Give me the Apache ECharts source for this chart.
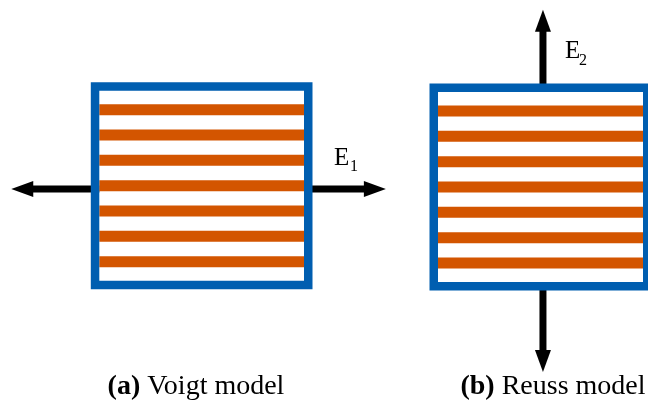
<!DOCTYPE html>
<html>
<head>
<meta charset="utf-8">
<script src="https://cdn.jsdelivr.net/npm/echarts@6/dist/echarts.min.js"></script>
<style>
  html, body { margin: 0; padding: 0; background: #ffffff; }
  #chart { width: 648px; height: 400px; }
</style>
</head>
<body>
<div id="chart"></div>
<script>
// Panel captions: bold tag + model name
const captionTags = ['(a)', '(b)'];
const captionNames = ['Voigt model', 'Reuss model'];

// Fibre layers of the laminate, indexed from the top
const fibreLayers = [0, 1, 2, 3, 4, 5, 6];

// Laminate extent: width as a fraction, height in layer units
const laminateX = [0, 1];
const laminateY = [-0.75, 6.75];

// Load arrows per panel: [startX, startY, tipX, tipY] in panel units
const voigtArrows = [[0, 3.13, -0.43, 3.13], [1, 3.13, 1.40, 3.13]];
const reussArrows = [[0.512, -0.75, 0.512, -4.0], [0.512, 6.75, 0.512, 10.3]];

// Modulus labels: symbol and subscript
const voigtLabel = ['E', '1'];
const reussLabel = ['E', '2'];

const BLUE = '#005EB0';
const ORANGE = '#D35500';
const INK = '#000000';
const SERIF = '"Liberation Serif", "DejaVu Serif", serif';
const STRIPE_THICKNESS = 0.434;   // layer units
const FRAME_WIDTH = 8.5;
const SHAFT_WIDTH = 7;
const HEAD_LENGTH = 22;
const HEAD_HALF = 8;
const CAPTION_SIZE = 28;

const panels = [
  { grid: { left: 99.3, top: 90.7, width: 204.7, height: 190 },
    arrows: voigtArrows, label: voigtLabel, labelArrow: 1,
    labelOffset: { e: [-52, -30.5], sub: [-36, -22] },
    caption: { x: 196, y: 387 } },
  { grid: { left: 438, top: 92, width: 205, height: 190 },
    arrows: reussArrows, label: reussLabel, labelArrow: 0,
    labelOffset: { e: [22, 42], sub: [36, 51.5] },
    caption: { x: 553, y: 387 } }
];

function stripeItem(params, api) {
  const layer = api.value(1);
  const p0 = api.coord([api.value(0), layer]);
  const p1 = api.coord([api.value(2), layer]);
  const h = Math.abs(api.size([0, STRIPE_THICKNESS])[1]);
  return {
    type: 'rect',
    shape: { x: p0[0], y: p0[1] - h / 2, width: p1[0] - p0[0], height: h },
    style: { fill: ORANGE }
  };
}

function frameItem(params, api) {
  const a = api.coord([api.value(0), api.value(1)]);
  const b = api.coord([api.value(2), api.value(3)]);
  const x0 = Math.min(a[0], b[0]) - FRAME_WIDTH / 2;
  const y0 = Math.min(a[1], b[1]) - FRAME_WIDTH / 2;
  return {
    type: 'rect',
    shape: {
      x: x0, y: y0,
      width: Math.abs(b[0] - a[0]) + FRAME_WIDTH,
      height: Math.abs(b[1] - a[1]) + FRAME_WIDTH
    },
    style: { fill: 'none', stroke: BLUE, lineWidth: FRAME_WIDTH }
  };
}

function makeArrowItem(panel) {
  return function (params, api) {
    const s = api.coord([api.value(0), api.value(1)]);
    const t = api.coord([api.value(2), api.value(3)]);
    const dx = t[0] - s[0], dy = t[1] - s[1];
    const len = Math.sqrt(dx * dx + dy * dy);
    const ux = dx / len, uy = dy / len;
    const bx = t[0] - ux * HEAD_LENGTH, by = t[1] - uy * HEAD_LENGTH;
    const px = -uy * HEAD_HALF, py = ux * HEAD_HALF;
    const children = [
      { type: 'line',
        shape: { x1: s[0], y1: s[1], x2: bx + ux * 2, y2: by + uy * 2 },
        style: { stroke: INK, lineWidth: SHAFT_WIDTH } },
      { type: 'polygon',
        shape: { points: [[t[0], t[1]], [bx + px, by + py], [bx - px, by - py]] },
        style: { fill: INK } }
    ];
    if (params.dataIndex === panel.labelArrow) {
      children.push({
        type: 'text',
        x: t[0] + panel.labelOffset.e[0], y: t[1] + panel.labelOffset.e[1],
        style: { text: panel.label[0], font: '25px ' + SERIF, fill: INK,
                 textAlign: 'left', textVerticalAlign: 'middle' }
      });
      children.push({
        type: 'text',
        x: t[0] + panel.labelOffset.sub[0], y: t[1] + panel.labelOffset.sub[1],
        style: { text: panel.label[1], font: '16px ' + SERIF, fill: INK,
                 textAlign: 'left', textVerticalAlign: 'middle' }
      });
    }
    return { type: 'group', children: children };
  };
}

const grids = [], xAxes = [], yAxes = [], series = [], captions = [];
panels.forEach(function (panel, i) {
  grids.push(panel.grid);
  xAxes.push({ gridIndex: i, type: 'value', min: laminateX[0], max: laminateX[1], show: false });
  yAxes.push({ gridIndex: i, type: 'value', min: laminateY[0], max: laminateY[1], inverse: true, show: false });
  series.push({
    type: 'custom', xAxisIndex: i, yAxisIndex: i, z: 1, silent: true,
    renderItem: makeArrowItem(panel),
    data: panel.arrows
  });
  series.push({
    type: 'custom', xAxisIndex: i, yAxisIndex: i, z: 2, silent: true,
    renderItem: stripeItem,
    data: fibreLayers.map(function (l) { return [laminateX[0], l, laminateX[1]]; })
  });
  series.push({
    type: 'custom', xAxisIndex: i, yAxisIndex: i, z: 3, silent: true,
    renderItem: frameItem,
    data: [[laminateX[0], laminateY[0], laminateX[1], laminateY[1]]]
  });
  captions.push({
    type: 'text',
    x: panel.caption.x, y: panel.caption.y,
    style: {
      text: '{b|' + captionTags[i] + '} ' + captionNames[i],
      font: CAPTION_SIZE + 'px ' + SERIF,
      fill: INK,
      textAlign: 'center',
      textVerticalAlign: 'middle',
      rich: { b: { fontWeight: 'bold', fontSize: CAPTION_SIZE, fontFamily: SERIF, fill: INK } }
    }
  });
});

const chart = echarts.init(document.getElementById('chart'));
chart.setOption({
  animation: false,
  backgroundColor: '#ffffff',
  grid: grids,
  xAxis: xAxes,
  yAxis: yAxes,
  series: series,
  graphic: captions
});
</script>
</body>
</html>
